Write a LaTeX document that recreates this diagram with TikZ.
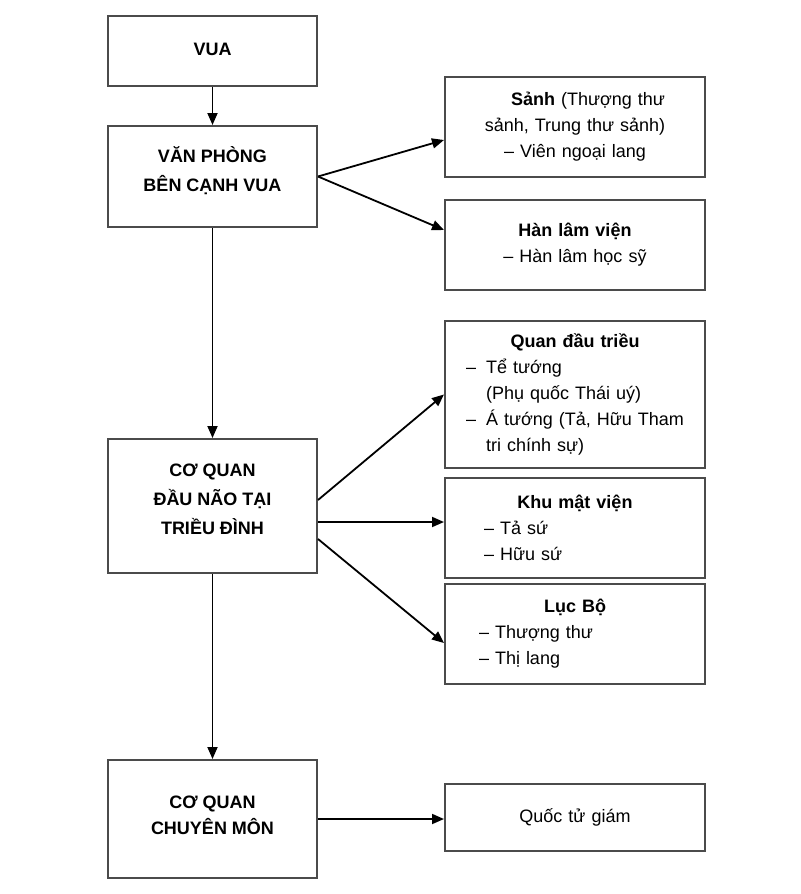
\documentclass[tikz,border=0pt]{standalone}
\usepackage{fontspec}
\setmainfont{Liberation Sans}
\usetikzlibrary{arrows.meta,positioning,calc}
\definecolor{boxline}{RGB}{75,75,75}
\tikzset{
  orgbox/.style={draw=boxline, line width=1pt, inner sep=0pt, minimum width=104.5pt,
    align=center, text depth=7pt, font=\fontsize{9}{14.5}\selectfont\bfseries},
  unitbox/.style={draw=boxline, line width=1pt, inner xsep=0pt, inner ysep=0pt,
    text width=130pt, align=center, font=\fontsize{9}{13}\selectfont},
  listbox/.style={unitbox, align=left},
  linkarr/.style={-{Triangle[length=6pt,width=5pt]}, line width=0.9pt},
}
\newcommand{\boxtitle}[1]{\makebox[\linewidth]{\textbf{#1}}}
\newcommand{\dashsp}{\hspace{5pt}}

\begin{document}
\begin{tikzpicture}[x=0.5pt, y=-0.5pt]
    \useasboundingbox (0,0) rectangle (800,894);
    % ----- left column -----
    \node[orgbox, minimum height=35pt, text depth=2pt] (vua) at (212.5,51) {VUA};
    \node[orgbox, minimum height=50.5pt] (vanphong) at (212.5,176.5) {VĂN PHÒNG\\BÊN CẠNH VUA};
    \node[orgbox, minimum height=67pt] (daunao) at (212.5,506) {CƠ QUAN\\ĐẦU NÃO TẠI\\TRIỀU ĐÌNH};
    \node[orgbox, minimum height=59pt, text depth=4pt,
          font=\fontsize{9}{13}\selectfont\bfseries] (chuyenmon) at (212.5,819) {CƠ QUAN\\CHUYÊN MÔN};
    % ----- right column -----
    \node[unitbox, minimum height=50pt] (sanh) at (575,127)
      {\hspace*{13pt}\textbf{Sảnh} (Thượng thư\\sảnh, Trung thư sảnh)\\– Viên ngoại lang};
    \node[unitbox, minimum height=45pt] (hanlam) at (575,245)
      {\textbf{Hàn lâm viện}\\– Hàn lâm học sỹ};
    \node[listbox, minimum height=73.5pt] (quandau) at (575,394.5)
      {\boxtitle{Quan đầu triều}\\
       \hspace*{10.5pt}–\dashsp Tể tướng\\
       \hspace*{10.5pt}\phantom{–\dashsp}(Phụ quốc Thái uý)\\
       \hspace*{10.5pt}–\dashsp Á tướng (Tả, Hữu Tham\\
       \hspace*{10.5pt}\phantom{–\dashsp}tri chính sự)};
    \node[listbox, minimum height=50pt] (khumat) at (575,528)
      {\boxtitle{Khu mật viện}\\
       \hspace*{19.5pt}– Tả sứ\\
       \hspace*{19.5pt}– Hữu sứ};
    \node[listbox, minimum height=50pt] (lucbo) at (575,634)
      {\boxtitle{Lục Bộ}\\
       \hspace*{17pt}– Thượng thư\\
       \hspace*{17pt}– Thị lang};
    \node[unitbox, minimum height=33.5pt] (quoctu) at (575,817.5) {Quốc tử giám};
    % ----- connectors -----
    \draw[linkarr] (vua) -- (vanphong);
    \draw[linkarr] (vanphong) -- (daunao);
    \draw[linkarr] (daunao) -- (chuyenmon);
    \draw[linkarr] (vanphong.east) -- ([yshift=-6.5pt]sanh.west);
    \draw[linkarr] (vanphong.east) -- ([yshift=7.5pt]hanlam.west);
    \draw[linkarr] ([yshift=3pt]daunao.east) -- (quandau.west);
    \draw[linkarr] ([yshift=-8pt]daunao.east) -- ([yshift=-8pt]daunao.east -| khumat.west);
    \draw[linkarr] ([yshift=-16.5pt]daunao.east) -- ([yshift=-4.5pt]lucbo.west);
    \draw[linkarr] (chuyenmon.east) -- (chuyenmon.east -| quoctu.west);
\end{tikzpicture}
\end{document}
